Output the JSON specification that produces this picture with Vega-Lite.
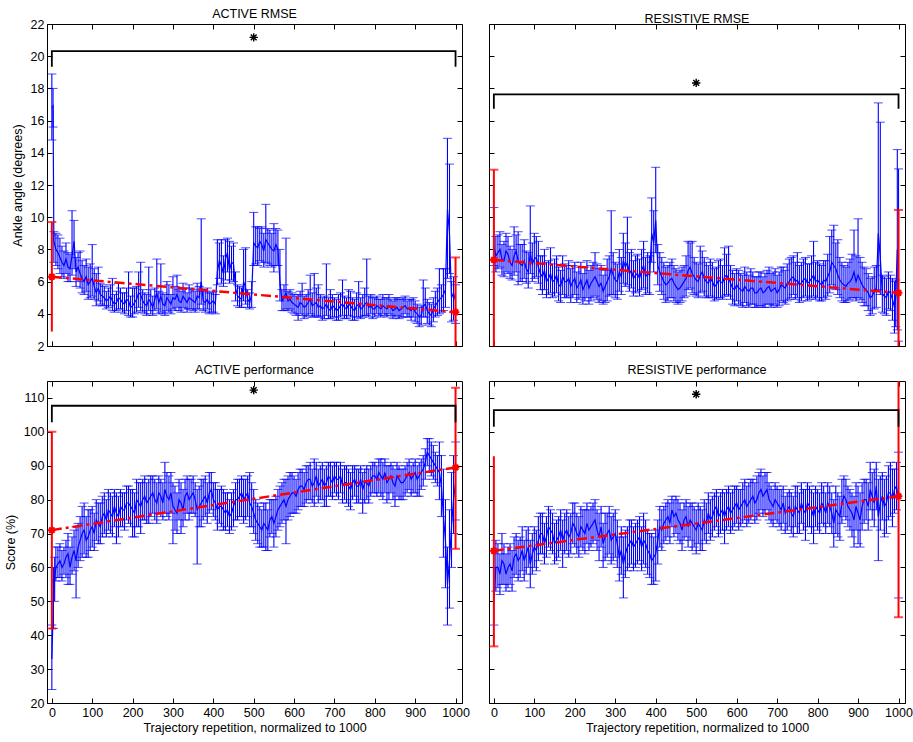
{
  "$schema": "https://vega.github.io/schema/vega-lite/v6.json",
  "description": "ACTIVE / RESISTIVE RMSE and performance over trajectory repetitions",
  "padding": {"left": 3, "top": 7, "right": 0, "bottom": 0},
  "background": "white",
  "config": {
    "font": "Liberation Sans",
    "view": {"stroke": "black", "strokeWidth": 1},
    "axis": {
      "labelFont": "Liberation Sans",
      "labelFontSize": 12.5,
      "labelColor": "black",
      "labelOverlap": false,
      "labelSeparation": 0,
      "tickCount": 30,
      "format": "d",
      "titleFont": "Liberation Sans",
      "titleFontSize": 12.5,
      "titleFontWeight": "normal",
      "titleColor": "black",
      "tickColor": "black",
      "domainColor": "black",
      "tickSize": -5,
      "labelPadding": 8,
      "grid": false
    },
    "title": {"font": "Liberation Sans", "fontSize": 12.5, "fontWeight": "normal", "color": "black", "offset": -2}
  },
  "datasets": {
    "tl": [
      {"x":0,"m":16.8,"lo":14.8,"hi":18.9},{"x":3,"m":16.9,"lo":15.6,"hi":18.0},{"x":10,"m":8.0,"lo":7.0,"hi":9.0},{"x":20,"m":7.5,"lo":6.5,"hi":8.7},
      {"x":30,"m":7.0,"lo":6.2,"hi":7.9},{"x":40,"m":6.9,"lo":6.0,"hi":7.8},{"x":50,"m":7.6,"lo":6.4,"hi":10.4},{"x":60,"m":6.6,"lo":5.7,"hi":7.5},
      {"x":70,"m":6.5,"lo":5.6,"hi":7.9},{"x":80,"m":6.0,"lo":5.2,"hi":7.0},{"x":90,"m":5.8,"lo":4.9,"hi":6.9},{"x":100,"m":6.2,"lo":5.1,"hi":8.3},
      {"x":110,"m":5.3,"lo":4.5,"hi":6.5},{"x":120,"m":5.2,"lo":4.6,"hi":5.9},{"x":130,"m":5.0,"lo":4.5,"hi":5.7},{"x":140,"m":4.9,"lo":4.4,"hi":5.6},
      {"x":150,"m":4.8,"lo":4.2,"hi":6.2},{"x":160,"m":4.7,"lo":4.2,"hi":5.4},{"x":170,"m":4.9,"lo":4.3,"hi":5.6},{"x":180,"m":4.6,"lo":4.0,"hi":5.3},
      {"x":190,"m":4.8,"lo":3.9,"hi":6.6},{"x":200,"m":4.5,"lo":3.8,"hi":5.6},{"x":210,"m":4.9,"lo":4.1,"hi":5.7},{"x":220,"m":5.2,"lo":4.2,"hi":7.2},
      {"x":230,"m":4.6,"lo":4.0,"hi":5.3},{"x":240,"m":4.9,"lo":4.2,"hi":6.9},{"x":250,"m":4.4,"lo":3.9,"hi":5.1},{"x":260,"m":5.3,"lo":4.3,"hi":7.4},
      {"x":270,"m":5.1,"lo":4.1,"hi":7.1},{"x":280,"m":4.5,"lo":3.9,"hi":5.2},{"x":290,"m":4.8,"lo":4.1,"hi":5.8},{"x":300,"m":5.0,"lo":4.3,"hi":6.3},
      {"x":310,"m":5.2,"lo":4.4,"hi":6.4},{"x":320,"m":4.7,"lo":4.1,"hi":5.4},{"x":330,"m":4.9,"lo":4.3,"hi":5.6},{"x":340,"m":5.0,"lo":4.3,"hi":5.8},
      {"x":350,"m":4.8,"lo":4.2,"hi":5.5},{"x":360,"m":5.1,"lo":4.3,"hi":5.9},{"x":370,"m":6.0,"lo":4.6,"hi":9.9},{"x":380,"m":4.7,"lo":4.1,"hi":5.4},
      {"x":390,"m":4.6,"lo":4.0,"hi":5.3},{"x":400,"m":4.8,"lo":4.1,"hi":5.4},{"x":410,"m":6.6,"lo":5.8,"hi":8.6},{"x":420,"m":7.0,"lo":5.9,"hi":8.6},
      {"x":430,"m":7.4,"lo":6.1,"hi":8.6},{"x":440,"m":6.7,"lo":5.9,"hi":8.5},{"x":450,"m":7.1,"lo":6.0,"hi":8.4},{"x":460,"m":5.1,"lo":4.5,"hi":5.8},
      {"x":470,"m":4.9,"lo":4.4,"hi":5.6},{"x":480,"m":5.6,"lo":4.6,"hi":8.1},{"x":490,"m":4.7,"lo":4.3,"hi":5.3},{"x":500,"m":8.4,"lo":7.0,"hi":10.3},
      {"x":510,"m":8.1,"lo":7.0,"hi":9.4},{"x":520,"m":8.3,"lo":7.2,"hi":9.4},{"x":530,"m":8.6,"lo":7.2,"hi":10.8},{"x":540,"m":8.2,"lo":7.0,"hi":9.2},
      {"x":550,"m":7.9,"lo":6.6,"hi":9.6},{"x":560,"m":8.0,"lo":7.0,"hi":9.2},{"x":570,"m":4.8,"lo":4.2,"hi":5.5},{"x":580,"m":5.3,"lo":4.3,"hi":8.7},
      {"x":590,"m":4.9,"lo":4.3,"hi":5.5},{"x":600,"m":4.6,"lo":4.0,"hi":5.2},{"x":610,"m":4.4,"lo":3.6,"hi":5.2},{"x":620,"m":4.6,"lo":3.9,"hi":5.9},
      {"x":630,"m":4.5,"lo":3.8,"hi":5.2},{"x":640,"m":4.9,"lo":4.0,"hi":6.4},{"x":650,"m":4.6,"lo":3.8,"hi":6.5},{"x":660,"m":4.4,"lo":3.8,"hi":5.8},
      {"x":670,"m":4.3,"lo":3.6,"hi":5.0},{"x":680,"m":4.6,"lo":3.9,"hi":7.1},{"x":690,"m":4.2,"lo":3.7,"hi":5.5},{"x":700,"m":4.4,"lo":3.8,"hi":5.0},
      {"x":710,"m":4.3,"lo":3.6,"hi":5.2},{"x":720,"m":4.6,"lo":3.9,"hi":6.1},{"x":730,"m":4.3,"lo":3.7,"hi":5.0},{"x":740,"m":4.5,"lo":3.8,"hi":5.4},
      {"x":750,"m":4.2,"lo":3.6,"hi":4.9},{"x":760,"m":4.6,"lo":3.8,"hi":6.0},{"x":770,"m":4.4,"lo":3.8,"hi":5.2},{"x":780,"m":4.7,"lo":3.9,"hi":7.4},
      {"x":790,"m":4.5,"lo":4.0,"hi":5.2},{"x":800,"m":4.3,"lo":3.8,"hi":5.0},{"x":810,"m":4.4,"lo":3.9,"hi":4.9},{"x":820,"m":4.5,"lo":4.0,"hi":5.2},
      {"x":830,"m":4.3,"lo":3.8,"hi":5.0},{"x":840,"m":4.4,"lo":3.9,"hi":4.9},{"x":850,"m":4.3,"lo":3.8,"hi":5.0},{"x":860,"m":4.2,"lo":3.7,"hi":4.9},
      {"x":870,"m":4.4,"lo":3.8,"hi":5.0},{"x":880,"m":4.3,"lo":3.8,"hi":4.8},{"x":890,"m":4.2,"lo":3.6,"hi":4.9},{"x":900,"m":4.1,"lo":3.5,"hi":4.8},
      {"x":910,"m":3.8,"lo":3.2,"hi":4.4},{"x":920,"m":4.5,"lo":3.8,"hi":6.1},{"x":930,"m":4.2,"lo":3.4,"hi":4.9},{"x":940,"m":3.9,"lo":3.2,"hi":4.6},
      {"x":950,"m":4.5,"lo":3.8,"hi":5.4},{"x":960,"m":4.9,"lo":4.0,"hi":6.8},{"x":970,"m":5.2,"lo":4.2,"hi":6.8},{"x":980,"m":10.5,"lo":6.2,"hi":14.9},
      {"x":985,"m":9.0,"lo":6.5,"hi":13.3},{"x":990,"m":5.0,"lo":3.5,"hi":6.0},{"x":1000,"m":4.8,"lo":3.4,"hi":5.8},
      {"x":5,"m":8.5,"lo":7.2,"hi":9.1},{"x":15,"m":7.8,"lo":6.8,"hi":8.9},{"x":25,"m":7.2,"lo":6.3,"hi":8.2},{"x":35,"m":7.4,"lo":6.5,"hi":8.4},
      {"x":45,"m":6.8,"lo":6.0,"hi":7.7},{"x":55,"m":8.5,"lo":6.8,"hi":9.8},{"x":65,"m":6.9,"lo":6.0,"hi":7.8},{"x":75,"m":6.2,"lo":5.3,"hi":7.3},
      {"x":85,"m":6.3,"lo":5.4,"hi":7.4},{"x":95,"m":6.0,"lo":5.0,"hi":7.1},{"x":105,"m":5.7,"lo":4.9,"hi":6.8},{"x":115,"m":5.6,"lo":4.8,"hi":6.9},
      {"x":125,"m":5.1,"lo":4.5,"hi":5.8},{"x":135,"m":4.8,"lo":4.3,"hi":5.4},{"x":145,"m":5.1,"lo":4.5,"hi":5.8},{"x":155,"m":4.6,"lo":4.1,"hi":5.2},
      {"x":165,"m":5.0,"lo":4.3,"hi":5.9},{"x":175,"m":4.7,"lo":4.1,"hi":5.3},{"x":185,"m":4.9,"lo":4.2,"hi":5.6},{"x":195,"m":4.4,"lo":3.8,"hi":5.1},
      {"x":205,"m":4.7,"lo":4.0,"hi":5.6},{"x":215,"m":5.3,"lo":4.4,"hi":6.6},{"x":225,"m":4.8,"lo":4.1,"hi":5.5},{"x":235,"m":4.5,"lo":3.9,"hi":5.2},
      {"x":245,"m":4.7,"lo":4.0,"hi":5.5},{"x":255,"m":4.9,"lo":4.2,"hi":5.6},{"x":265,"m":4.7,"lo":4.0,"hi":5.4},{"x":275,"m":4.6,"lo":4.0,"hi":5.3},
      {"x":285,"m":5.0,"lo":4.2,"hi":6.0},{"x":295,"m":4.6,"lo":4.0,"hi":5.2},{"x":305,"m":4.9,"lo":4.2,"hi":5.7},{"x":315,"m":4.8,"lo":4.2,"hi":5.5},
      {"x":325,"m":5.1,"lo":4.4,"hi":5.9},{"x":335,"m":4.7,"lo":4.1,"hi":5.3},{"x":345,"m":4.9,"lo":4.3,"hi":5.6},{"x":355,"m":4.7,"lo":4.1,"hi":5.4},
      {"x":365,"m":5.0,"lo":4.3,"hi":5.7},{"x":375,"m":4.8,"lo":4.2,"hi":5.5},{"x":385,"m":4.9,"lo":4.3,"hi":5.6},{"x":395,"m":4.7,"lo":4.1,"hi":5.3},
      {"x":405,"m":4.6,"lo":4.0,"hi":5.2},{"x":415,"m":7.3,"lo":6.2,"hi":8.4},{"x":425,"m":6.5,"lo":5.7,"hi":7.6},{"x":435,"m":7.8,"lo":6.6,"hi":8.7},
      {"x":445,"m":7.2,"lo":6.1,"hi":8.2},{"x":455,"m":5.6,"lo":4.8,"hi":6.6},{"x":465,"m":5.0,"lo":4.4,"hi":5.7},{"x":475,"m":6.0,"lo":4.8,"hi":8.0},
      {"x":485,"m":4.9,"lo":4.4,"hi":5.5},{"x":495,"m":5.2,"lo":4.4,"hi":6.0},{"x":505,"m":8.2,"lo":7.1,"hi":9.4},{"x":515,"m":8.5,"lo":7.3,"hi":9.3},
      {"x":525,"m":7.9,"lo":6.9,"hi":9.0},{"x":535,"m":8.4,"lo":7.1,"hi":9.3},{"x":545,"m":8.0,"lo":6.9,"hi":9.0},{"x":555,"m":8.3,"lo":7.0,"hi":9.3},
      {"x":565,"m":6.0,"lo":4.8,"hi":8.0},{"x":575,"m":5.0,"lo":4.2,"hi":5.8},{"x":585,"m":4.8,"lo":4.2,"hi":5.4},{"x":595,"m":4.7,"lo":4.1,"hi":5.3},
      {"x":605,"m":4.5,"lo":3.9,"hi":5.1},{"x":615,"m":4.7,"lo":4.0,"hi":5.4},{"x":625,"m":4.4,"lo":3.7,"hi":5.1},{"x":635,"m":4.7,"lo":3.9,"hi":5.5},
      {"x":645,"m":4.5,"lo":3.8,"hi":5.3},{"x":655,"m":4.7,"lo":3.9,"hi":5.6},{"x":665,"m":4.5,"lo":3.8,"hi":5.2},{"x":675,"m":4.4,"lo":3.7,"hi":5.1},
      {"x":685,"m":4.3,"lo":3.7,"hi":5.0},{"x":695,"m":4.5,"lo":3.8,"hi":5.2},{"x":705,"m":4.2,"lo":3.6,"hi":4.9},{"x":715,"m":4.5,"lo":3.8,"hi":5.3},
      {"x":725,"m":4.4,"lo":3.7,"hi":5.1},{"x":735,"m":4.6,"lo":3.9,"hi":5.5},{"x":745,"m":4.3,"lo":3.6,"hi":5.0},{"x":755,"m":4.5,"lo":3.8,"hi":5.3},
      {"x":765,"m":4.3,"lo":3.7,"hi":5.0},{"x":775,"m":4.6,"lo":3.9,"hi":5.6},{"x":785,"m":4.4,"lo":3.8,"hi":5.1},{"x":795,"m":4.3,"lo":3.7,"hi":5.0},
      {"x":805,"m":4.5,"lo":4.0,"hi":5.1},{"x":815,"m":4.3,"lo":3.8,"hi":4.9},{"x":825,"m":4.4,"lo":3.9,"hi":5.0},{"x":835,"m":4.5,"lo":4.0,"hi":5.2},
      {"x":845,"m":4.2,"lo":3.7,"hi":4.8},{"x":855,"m":4.4,"lo":3.9,"hi":5.0},{"x":865,"m":4.3,"lo":3.8,"hi":4.9},{"x":875,"m":4.5,"lo":4.0,"hi":5.1},
      {"x":885,"m":4.3,"lo":3.8,"hi":4.9},{"x":895,"m":4.4,"lo":3.8,"hi":5.0},{"x":905,"m":4.0,"lo":3.4,"hi":4.6},{"x":915,"m":3.9,"lo":3.3,"hi":4.5},
      {"x":925,"m":4.6,"lo":3.8,"hi":5.6},{"x":935,"m":4.0,"lo":3.3,"hi":4.7},{"x":945,"m":4.3,"lo":3.5,"hi":5.0},{"x":955,"m":4.7,"lo":3.9,"hi":5.6},
      {"x":965,"m":5.0,"lo":4.1,"hi":5.8},{"x":975,"m":5.5,"lo":4.4,"hi":6.8},{"x":995,"m":5.3,"lo":3.6,"hi":6.3}
    ],
    "tr": [
      {"x":0,"m":8.2,"lo":7.0,"hi":10.6},{"x":10,"m":7.8,"lo":6.8,"hi":8.9},{"x":20,"m":7.4,"lo":6.4,"hi":8.3},{"x":30,"m":7.9,"lo":6.6,"hi":9.0},
      {"x":40,"m":7.2,"lo":6.2,"hi":8.2},{"x":50,"m":7.6,"lo":6.4,"hi":9.4},{"x":60,"m":7.3,"lo":5.8,"hi":9.1},{"x":70,"m":7.0,"lo":6.0,"hi":8.3},
      {"x":80,"m":6.8,"lo":5.9,"hi":7.9},{"x":90,"m":7.8,"lo":6.5,"hi":10.7},{"x":100,"m":7.4,"lo":6.2,"hi":9.0},{"x":110,"m":6.9,"lo":5.9,"hi":8.5},
      {"x":120,"m":6.3,"lo":5.2,"hi":7.6},{"x":130,"m":6.0,"lo":5.0,"hi":7.2},{"x":140,"m":6.5,"lo":5.3,"hi":8.1},{"x":150,"m":6.1,"lo":5.1,"hi":7.4},
      {"x":160,"m":5.8,"lo":4.8,"hi":6.9},{"x":170,"m":6.3,"lo":5.2,"hi":7.6},{"x":180,"m":6.0,"lo":5.0,"hi":7.0},{"x":190,"m":5.7,"lo":4.7,"hi":6.8},
      {"x":200,"m":6.2,"lo":5.2,"hi":7.2},{"x":210,"m":5.8,"lo":4.9,"hi":6.9},{"x":220,"m":5.5,"lo":4.6,"hi":6.5},{"x":230,"m":6.1,"lo":5.0,"hi":7.3},
      {"x":240,"m":5.9,"lo":4.8,"hi":7.0},{"x":250,"m":6.3,"lo":5.1,"hi":7.8},{"x":260,"m":5.7,"lo":4.7,"hi":6.8},{"x":270,"m":5.4,"lo":4.6,"hi":6.4},
      {"x":280,"m":6.0,"lo":4.8,"hi":7.4},{"x":290,"m":6.8,"lo":5.2,"hi":10.4},{"x":300,"m":6.1,"lo":5.0,"hi":7.2},{"x":310,"m":6.6,"lo":5.4,"hi":8.0},
      {"x":320,"m":7.3,"lo":5.9,"hi":9.0},{"x":330,"m":7.2,"lo":5.8,"hi":10.0},{"x":340,"m":6.7,"lo":5.6,"hi":8.0},{"x":350,"m":6.4,"lo":5.3,"hi":7.6},
      {"x":360,"m":6.2,"lo":5.1,"hi":7.4},{"x":370,"m":7.0,"lo":5.6,"hi":8.5},{"x":380,"m":6.5,"lo":5.3,"hi":7.8},{"x":390,"m":9.0,"lo":7.2,"hi":11.2},
      {"x":400,"m":9.8,"lo":7.8,"hi":13.1},{"x":410,"m":6.6,"lo":5.4,"hi":7.8},{"x":420,"m":6.0,"lo":4.9,"hi":7.2},{"x":430,"m":5.9,"lo":4.8,"hi":7.0},
      {"x":440,"m":6.2,"lo":5.0,"hi":7.4},{"x":450,"m":5.7,"lo":4.7,"hi":6.8},{"x":460,"m":5.6,"lo":4.7,"hi":6.7},{"x":470,"m":6.0,"lo":5.0,"hi":7.0},
      {"x":480,"m":6.7,"lo":5.5,"hi":8.5},{"x":490,"m":6.5,"lo":5.3,"hi":8.5},{"x":500,"m":6.1,"lo":5.1,"hi":7.2},{"x":510,"m":6.4,"lo":5.3,"hi":8.2},
      {"x":520,"m":6.2,"lo":5.1,"hi":7.5},{"x":530,"m":5.9,"lo":5.0,"hi":7.0},{"x":540,"m":6.0,"lo":5.0,"hi":7.2},{"x":550,"m":5.8,"lo":4.9,"hi":6.9},
      {"x":560,"m":6.0,"lo":5.0,"hi":7.4},{"x":570,"m":6.3,"lo":5.1,"hi":8.1},{"x":580,"m":6.2,"lo":5.1,"hi":8.2},{"x":590,"m":5.6,"lo":4.6,"hi":6.7},
      {"x":600,"m":5.8,"lo":4.8,"hi":6.8},{"x":610,"m":5.5,"lo":4.5,"hi":6.5},{"x":620,"m":5.7,"lo":4.7,"hi":6.9},{"x":630,"m":5.4,"lo":4.4,"hi":6.4},
      {"x":640,"m":5.6,"lo":4.6,"hi":6.6},{"x":650,"m":5.3,"lo":4.4,"hi":6.3},{"x":660,"m":5.6,"lo":4.5,"hi":6.6},{"x":670,"m":5.4,"lo":4.4,"hi":6.5},
      {"x":680,"m":5.7,"lo":4.6,"hi":6.9},{"x":690,"m":5.5,"lo":4.5,"hi":6.6},{"x":700,"m":5.3,"lo":4.4,"hi":6.4},{"x":710,"m":5.8,"lo":4.8,"hi":6.9},
      {"x":720,"m":5.6,"lo":4.6,"hi":6.7},{"x":730,"m":6.0,"lo":4.9,"hi":7.4},{"x":740,"m":6.3,"lo":5.2,"hi":7.6},{"x":750,"m":6.1,"lo":5.0,"hi":7.8},
      {"x":760,"m":5.9,"lo":4.8,"hi":7.2},{"x":770,"m":6.2,"lo":5.1,"hi":7.5},{"x":780,"m":6.0,"lo":4.9,"hi":7.1},{"x":790,"m":6.4,"lo":5.1,"hi":8.5},
      {"x":800,"m":6.1,"lo":5.0,"hi":7.3},{"x":810,"m":5.8,"lo":4.8,"hi":7.0},{"x":820,"m":6.0,"lo":4.9,"hi":7.3},{"x":830,"m":6.6,"lo":5.3,"hi":8.8},
      {"x":840,"m":7.0,"lo":5.6,"hi":9.5},{"x":850,"m":6.4,"lo":5.2,"hi":8.6},{"x":860,"m":5.9,"lo":4.8,"hi":7.2},{"x":870,"m":5.7,"lo":4.7,"hi":6.9},
      {"x":880,"m":6.0,"lo":4.9,"hi":7.4},{"x":890,"m":6.6,"lo":5.0,"hi":9.2},{"x":900,"m":6.4,"lo":5.0,"hi":9.9},{"x":910,"m":5.8,"lo":4.7,"hi":7.2},
      {"x":920,"m":5.5,"lo":4.5,"hi":6.8},{"x":930,"m":5.0,"lo":3.9,"hi":6.2},{"x":940,"m":5.4,"lo":4.3,"hi":6.9},{"x":950,"m":9.0,"lo":5.5,"hi":17.1},
      {"x":955,"m":7.5,"lo":5.2,"hi":15.9},{"x":960,"m":5.2,"lo":4.1,"hi":6.4},{"x":970,"m":5.0,"lo":3.9,"hi":6.2},{"x":980,"m":5.3,"lo":4.2,"hi":6.4},
      {"x":990,"m":4.4,"lo":2.8,"hi":6.0},{"x":997,"m":8.0,"lo":3.0,"hi":14.2},{"x":1000,"m":7.0,"lo":2.3,"hi":13.0},
      {"x":5,"m":7.6,"lo":6.6,"hi":8.8},{"x":15,"m":8.0,"lo":6.9,"hi":9.1},{"x":25,"m":7.3,"lo":6.3,"hi":8.5},{"x":35,"m":7.7,"lo":6.5,"hi":8.8},
      {"x":45,"m":7.0,"lo":6.1,"hi":8.0},{"x":55,"m":7.9,"lo":6.6,"hi":8.9},{"x":65,"m":7.1,"lo":6.0,"hi":8.3},{"x":75,"m":7.3,"lo":6.2,"hi":8.6},
      {"x":85,"m":6.6,"lo":5.6,"hi":7.8},{"x":95,"m":7.1,"lo":6.0,"hi":8.4},{"x":105,"m":7.5,"lo":6.3,"hi":8.8},{"x":115,"m":6.5,"lo":5.5,"hi":7.6},
      {"x":125,"m":6.7,"lo":5.5,"hi":8.0},{"x":135,"m":6.2,"lo":5.2,"hi":7.3},{"x":145,"m":6.0,"lo":5.0,"hi":7.1},{"x":155,"m":6.4,"lo":5.3,"hi":7.6},
      {"x":165,"m":5.7,"lo":4.7,"hi":6.7},{"x":175,"m":6.0,"lo":5.0,"hi":7.1},{"x":185,"m":6.2,"lo":5.1,"hi":7.3},{"x":195,"m":6.0,"lo":5.0,"hi":7.0},
      {"x":205,"m":5.6,"lo":4.7,"hi":6.6},{"x":215,"m":6.1,"lo":5.0,"hi":7.2},{"x":225,"m":5.8,"lo":4.8,"hi":6.9},{"x":235,"m":5.6,"lo":4.6,"hi":6.7},
      {"x":245,"m":6.1,"lo":5.0,"hi":7.2},{"x":255,"m":6.0,"lo":4.9,"hi":7.1},{"x":265,"m":5.9,"lo":4.8,"hi":7.0},{"x":275,"m":5.7,"lo":4.7,"hi":6.7},
      {"x":285,"m":6.3,"lo":5.1,"hi":7.6},{"x":295,"m":6.4,"lo":5.2,"hi":7.8},{"x":305,"m":6.0,"lo":4.9,"hi":7.1},{"x":315,"m":6.3,"lo":5.2,"hi":7.5},
      {"x":325,"m":6.9,"lo":5.7,"hi":8.4},{"x":335,"m":6.5,"lo":5.4,"hi":7.8},{"x":345,"m":6.2,"lo":5.1,"hi":7.3},{"x":355,"m":6.5,"lo":5.4,"hi":7.7},
      {"x":365,"m":6.7,"lo":5.5,"hi":8.0},{"x":375,"m":6.3,"lo":5.2,"hi":7.5},{"x":385,"m":6.4,"lo":5.2,"hi":7.6},{"x":395,"m":8.4,"lo":6.6,"hi":10.4},
      {"x":405,"m":7.0,"lo":5.8,"hi":8.3},{"x":415,"m":6.3,"lo":5.2,"hi":7.5},{"x":425,"m":5.8,"lo":4.7,"hi":6.9},{"x":435,"m":6.1,"lo":5.0,"hi":7.2},
      {"x":445,"m":5.9,"lo":4.8,"hi":7.0},{"x":455,"m":5.5,"lo":4.6,"hi":6.6},{"x":465,"m":5.8,"lo":4.8,"hi":6.9},{"x":475,"m":6.2,"lo":5.1,"hi":7.6},
      {"x":485,"m":6.9,"lo":5.6,"hi":8.4},{"x":495,"m":6.3,"lo":5.2,"hi":7.5},{"x":505,"m":6.0,"lo":5.0,"hi":7.1},{"x":515,"m":6.6,"lo":5.4,"hi":7.9},
      {"x":525,"m":6.0,"lo":5.0,"hi":7.2},{"x":535,"m":6.2,"lo":5.1,"hi":7.4},{"x":545,"m":5.7,"lo":4.8,"hi":6.8},{"x":555,"m":6.1,"lo":5.0,"hi":7.3},
      {"x":565,"m":5.9,"lo":4.9,"hi":7.0},{"x":575,"m":6.4,"lo":5.2,"hi":7.7},{"x":585,"m":5.9,"lo":4.9,"hi":7.0},{"x":595,"m":5.5,"lo":4.5,"hi":6.5},
      {"x":605,"m":5.6,"lo":4.6,"hi":6.7},{"x":615,"m":5.4,"lo":4.4,"hi":6.4},{"x":625,"m":5.5,"lo":4.5,"hi":6.6},{"x":635,"m":5.6,"lo":4.6,"hi":6.8},
      {"x":645,"m":5.3,"lo":4.4,"hi":6.3},{"x":655,"m":5.5,"lo":4.5,"hi":6.6},{"x":665,"m":5.3,"lo":4.4,"hi":6.3},{"x":675,"m":5.6,"lo":4.6,"hi":6.7},
      {"x":685,"m":5.4,"lo":4.4,"hi":6.5},{"x":695,"m":5.6,"lo":4.6,"hi":6.8},{"x":705,"m":5.5,"lo":4.5,"hi":6.6},{"x":715,"m":5.7,"lo":4.7,"hi":6.9},
      {"x":725,"m":5.9,"lo":4.8,"hi":7.1},{"x":735,"m":6.2,"lo":5.0,"hi":7.5},{"x":745,"m":6.0,"lo":4.9,"hi":7.2},{"x":755,"m":5.8,"lo":4.7,"hi":7.0},
      {"x":765,"m":6.1,"lo":5.0,"hi":7.4},{"x":775,"m":5.9,"lo":4.8,"hi":7.1},{"x":785,"m":6.2,"lo":5.0,"hi":7.6},{"x":795,"m":6.0,"lo":4.9,"hi":7.2},
      {"x":805,"m":5.9,"lo":4.8,"hi":7.1},{"x":815,"m":6.1,"lo":5.0,"hi":7.3},{"x":825,"m":6.3,"lo":5.1,"hi":7.7},{"x":835,"m":7.2,"lo":5.8,"hi":9.2},
      {"x":845,"m":6.8,"lo":5.5,"hi":8.4},{"x":855,"m":6.1,"lo":5.0,"hi":7.5},{"x":865,"m":5.8,"lo":4.7,"hi":7.0},{"x":875,"m":5.9,"lo":4.8,"hi":7.2},
      {"x":885,"m":6.2,"lo":5.0,"hi":7.7},{"x":895,"m":6.0,"lo":4.8,"hi":7.6},{"x":905,"m":6.1,"lo":4.9,"hi":7.5},{"x":915,"m":5.6,"lo":4.5,"hi":6.9},
      {"x":925,"m":5.3,"lo":4.2,"hi":6.5},{"x":935,"m":5.1,"lo":4.0,"hi":6.3},{"x":945,"m":5.6,"lo":4.4,"hi":7.0},{"x":965,"m":5.1,"lo":4.0,"hi":6.3},
      {"x":975,"m":5.4,"lo":4.3,"hi":6.6},{"x":985,"m":4.9,"lo":3.6,"hi":6.2},{"x":993,"m":5.0,"lo":3.2,"hi":6.1}
    ],
    "bl": [
      {"x":0,"m":33,"lo":24,"hi":43},{"x":4,"m":50,"lo":42,"hi":60},{"x":10,"m":60,"lo":56,"hi":66},{"x":20,"m":62,"lo":57,"hi":67},
      {"x":30,"m":61,"lo":58,"hi":66},{"x":40,"m":64,"lo":55,"hi":70},{"x":50,"m":63,"lo":58,"hi":69},{"x":60,"m":62,"lo":51,"hi":72},
      {"x":70,"m":68,"lo":62,"hi":75},{"x":80,"m":71,"lo":64,"hi":79},{"x":90,"m":69,"lo":63,"hi":77},{"x":100,"m":72,"lo":66,"hi":78},
      {"x":110,"m":74,"lo":68,"hi":80},{"x":120,"m":72,"lo":67,"hi":79},{"x":130,"m":76,"lo":70,"hi":82},{"x":140,"m":77,"lo":71,"hi":83},
      {"x":150,"m":75,"lo":69,"hi":81},{"x":160,"m":76,"lo":67,"hi":82},{"x":170,"m":78,"lo":72,"hi":83},{"x":180,"m":77,"lo":71,"hi":82},
      {"x":190,"m":79,"lo":73,"hi":84},{"x":200,"m":77,"lo":69,"hi":83},{"x":210,"m":80,"lo":72,"hi":86},{"x":220,"m":78,"lo":70,"hi":85},
      {"x":230,"m":81,"lo":74,"hi":87},{"x":240,"m":80,"lo":73,"hi":86},{"x":250,"m":82,"lo":76,"hi":87},{"x":260,"m":79,"lo":73,"hi":85},
      {"x":270,"m":81,"lo":75,"hi":86},{"x":280,"m":83,"lo":76,"hi":91},{"x":290,"m":80,"lo":74,"hi":87},{"x":300,"m":78,"lo":67,"hi":85},
      {"x":310,"m":76,"lo":70,"hi":82},{"x":320,"m":79,"lo":70,"hi":85},{"x":330,"m":81,"lo":74,"hi":86},{"x":340,"m":80,"lo":74,"hi":86},
      {"x":350,"m":82,"lo":76,"hi":87},{"x":360,"m":77,"lo":61,"hi":83},{"x":370,"m":79,"lo":72,"hi":86},{"x":380,"m":81,"lo":75,"hi":87},
      {"x":390,"m":82,"lo":76,"hi":88},{"x":400,"m":80,"lo":75,"hi":85},{"x":410,"m":77,"lo":71,"hi":83},{"x":420,"m":78,"lo":72,"hi":84},
      {"x":430,"m":76,"lo":71,"hi":82},{"x":440,"m":75,"lo":70,"hi":80},{"x":450,"m":78,"lo":72,"hi":83},{"x":460,"m":80,"lo":74,"hi":86},
      {"x":470,"m":82,"lo":75,"hi":87},{"x":480,"m":81,"lo":74,"hi":86},{"x":490,"m":79,"lo":72,"hi":88},{"x":500,"m":76,"lo":70,"hi":83},
      {"x":510,"m":73,"lo":67,"hi":79},{"x":520,"m":71,"lo":66,"hi":77},{"x":530,"m":72,"lo":65,"hi":79},{"x":540,"m":74,"lo":69,"hi":80},
      {"x":550,"m":73,"lo":66,"hi":80},{"x":560,"m":77,"lo":71,"hi":83},{"x":570,"m":79,"lo":73,"hi":85},{"x":580,"m":78,"lo":67,"hi":86},
      {"x":590,"m":81,"lo":75,"hi":88},{"x":600,"m":82,"lo":76,"hi":87},{"x":610,"m":83,"lo":77,"hi":88},{"x":620,"m":84,"lo":78,"hi":89},
      {"x":630,"m":85,"lo":79,"hi":90},{"x":640,"m":86,"lo":80,"hi":91},{"x":650,"m":85,"lo":78,"hi":92},{"x":660,"m":84,"lo":79,"hi":89},
      {"x":670,"m":86,"lo":80,"hi":91},{"x":680,"m":85,"lo":78,"hi":90},{"x":690,"m":86,"lo":81,"hi":91},{"x":700,"m":87,"lo":82,"hi":91},
      {"x":710,"m":86,"lo":80,"hi":90},{"x":720,"m":84,"lo":79,"hi":89},{"x":730,"m":85,"lo":79,"hi":90},{"x":740,"m":83,"lo":77,"hi":88},
      {"x":750,"m":86,"lo":81,"hi":90},{"x":760,"m":84,"lo":79,"hi":89},{"x":770,"m":83,"lo":76,"hi":88},{"x":780,"m":85,"lo":80,"hi":90},
      {"x":790,"m":86,"lo":81,"hi":90},{"x":800,"m":87,"lo":82,"hi":91},{"x":810,"m":88,"lo":82,"hi":92},{"x":820,"m":86,"lo":80,"hi":91},
      {"x":830,"m":85,"lo":79,"hi":90},{"x":840,"m":87,"lo":82,"hi":91},{"x":850,"m":84,"lo":78,"hi":89},{"x":860,"m":86,"lo":80,"hi":90},
      {"x":870,"m":85,"lo":80,"hi":89},{"x":880,"m":87,"lo":82,"hi":91},{"x":890,"m":86,"lo":81,"hi":90},{"x":900,"m":88,"lo":82,"hi":92},
      {"x":910,"m":87,"lo":81,"hi":91},{"x":920,"m":89,"lo":84,"hi":93},{"x":930,"m":94,"lo":90,"hi":98},{"x":940,"m":92,"lo":87,"hi":97},
      {"x":950,"m":90,"lo":85,"hi":94},{"x":960,"m":88,"lo":80,"hi":97},{"x":970,"m":75,"lo":63,"hi":89},{"x":980,"m":55,"lo":43,"hi":66},
      {"x":990,"m":72,"lo":60,"hi":88},{"x":1000,"m":85,"lo":74,"hi":97},
      {"x":7,"m":57,"lo":50,"hi":63},{"x":15,"m":61,"lo":57,"hi":66},{"x":25,"m":60,"lo":56,"hi":65},{"x":35,"m":63,"lo":57,"hi":68},
      {"x":45,"m":60,"lo":55,"hi":66},{"x":55,"m":65,"lo":59,"hi":71},{"x":65,"m":66,"lo":60,"hi":73},{"x":75,"m":70,"lo":63,"hi":78},
      {"x":85,"m":68,"lo":63,"hi":75},{"x":95,"m":71,"lo":65,"hi":77},{"x":105,"m":70,"lo":65,"hi":76},{"x":115,"m":73,"lo":67,"hi":79},
      {"x":125,"m":75,"lo":69,"hi":81},{"x":135,"m":74,"lo":69,"hi":80},{"x":145,"m":76,"lo":70,"hi":82},{"x":155,"m":78,"lo":72,"hi":83},
      {"x":165,"m":75,"lo":69,"hi":81},{"x":175,"m":77,"lo":72,"hi":82},{"x":185,"m":79,"lo":74,"hi":84},{"x":195,"m":78,"lo":72,"hi":83},
      {"x":205,"m":76,"lo":69,"hi":82},{"x":215,"m":79,"lo":72,"hi":85},{"x":225,"m":80,"lo":74,"hi":86},{"x":235,"m":79,"lo":73,"hi":85},
      {"x":245,"m":81,"lo":75,"hi":87},{"x":255,"m":80,"lo":74,"hi":86},{"x":265,"m":82,"lo":76,"hi":87},{"x":275,"m":79,"lo":74,"hi":85},
      {"x":285,"m":81,"lo":75,"hi":88},{"x":295,"m":82,"lo":76,"hi":88},{"x":305,"m":77,"lo":71,"hi":84},{"x":315,"m":80,"lo":74,"hi":86},
      {"x":325,"m":77,"lo":72,"hi":83},{"x":335,"m":82,"lo":76,"hi":87},{"x":345,"m":81,"lo":76,"hi":86},{"x":355,"m":80,"lo":75,"hi":85},
      {"x":365,"m":78,"lo":72,"hi":84},{"x":375,"m":80,"lo":74,"hi":86},{"x":385,"m":79,"lo":73,"hi":85},{"x":395,"m":83,"lo":77,"hi":88},
      {"x":405,"m":79,"lo":74,"hi":85},{"x":415,"m":78,"lo":73,"hi":83},{"x":425,"m":77,"lo":71,"hi":83},{"x":435,"m":77,"lo":72,"hi":82},
      {"x":445,"m":76,"lo":71,"hi":82},{"x":455,"m":80,"lo":74,"hi":85},{"x":465,"m":81,"lo":75,"hi":86},{"x":475,"m":80,"lo":73,"hi":86},
      {"x":485,"m":82,"lo":75,"hi":87},{"x":495,"m":78,"lo":72,"hi":85},{"x":505,"m":74,"lo":68,"hi":80},{"x":515,"m":72,"lo":66,"hi":78},
      {"x":525,"m":73,"lo":66,"hi":79},{"x":535,"m":71,"lo":65,"hi":77},{"x":545,"m":75,"lo":70,"hi":80},{"x":555,"m":75,"lo":69,"hi":81},
      {"x":565,"m":78,"lo":72,"hi":84},{"x":575,"m":80,"lo":74,"hi":86},{"x":585,"m":80,"lo":74,"hi":87},{"x":595,"m":82,"lo":76,"hi":88},
      {"x":605,"m":81,"lo":76,"hi":86},{"x":615,"m":84,"lo":78,"hi":89},{"x":625,"m":83,"lo":78,"hi":88},{"x":635,"m":86,"lo":80,"hi":90},
      {"x":645,"m":84,"lo":79,"hi":89},{"x":655,"m":87,"lo":81,"hi":91},{"x":665,"m":85,"lo":80,"hi":90},{"x":675,"m":84,"lo":78,"hi":89},
      {"x":685,"m":87,"lo":81,"hi":91},{"x":695,"m":85,"lo":80,"hi":90},{"x":705,"m":86,"lo":81,"hi":91},{"x":715,"m":87,"lo":82,"hi":91},
      {"x":725,"m":85,"lo":80,"hi":90},{"x":735,"m":84,"lo":78,"hi":89},{"x":745,"m":85,"lo":80,"hi":90},{"x":755,"m":84,"lo":79,"hi":89},
      {"x":765,"m":86,"lo":80,"hi":90},{"x":775,"m":85,"lo":79,"hi":89},{"x":785,"m":84,"lo":79,"hi":89},{"x":795,"m":87,"lo":82,"hi":91},
      {"x":805,"m":86,"lo":81,"hi":90},{"x":815,"m":87,"lo":81,"hi":92},{"x":825,"m":88,"lo":82,"hi":92},{"x":835,"m":86,"lo":80,"hi":90},
      {"x":845,"m":85,"lo":80,"hi":90},{"x":855,"m":87,"lo":81,"hi":91},{"x":865,"m":85,"lo":80,"hi":89},{"x":875,"m":86,"lo":81,"hi":90},
      {"x":885,"m":88,"lo":83,"hi":92},{"x":895,"m":87,"lo":82,"hi":91},{"x":905,"m":86,"lo":81,"hi":90},{"x":915,"m":88,"lo":83,"hi":92},
      {"x":925,"m":91,"lo":86,"hi":95},{"x":935,"m":93,"lo":88,"hi":98},{"x":945,"m":91,"lo":86,"hi":96},{"x":955,"m":89,"lo":84,"hi":93},
      {"x":965,"m":84,"lo":75,"hi":93},{"x":975,"m":68,"lo":54,"hi":80},{"x":985,"m":62,"lo":48,"hi":77},{"x":995,"m":80,"lo":70,"hi":93}
    ],
    "br": [
      {"x":0,"m":50,"lo":43,"hi":60},{"x":5,"m":60,"lo":53,"hi":68},{"x":10,"m":60,"lo":54,"hi":67},{"x":20,"m":62,"lo":55,"hi":70},
      {"x":30,"m":58,"lo":53,"hi":64},{"x":40,"m":61,"lo":55,"hi":67},{"x":50,"m":63,"lo":57,"hi":69},{"x":60,"m":62,"lo":56,"hi":68},
      {"x":70,"m":65,"lo":59,"hi":72},{"x":80,"m":64,"lo":58,"hi":71},{"x":90,"m":61,"lo":54,"hi":68},{"x":100,"m":66,"lo":60,"hi":72},
      {"x":110,"m":68,"lo":62,"hi":75},{"x":120,"m":70,"lo":64,"hi":76},{"x":130,"m":69,"lo":63,"hi":75},{"x":140,"m":71,"lo":65,"hi":77},
      {"x":150,"m":67,"lo":61,"hi":73},{"x":160,"m":69,"lo":63,"hi":75},{"x":170,"m":68,"lo":60,"hi":74},{"x":180,"m":71,"lo":65,"hi":77},
      {"x":190,"m":70,"lo":64,"hi":76},{"x":200,"m":72,"lo":66,"hi":79},{"x":210,"m":69,"lo":63,"hi":75},{"x":220,"m":71,"lo":65,"hi":77},
      {"x":230,"m":73,"lo":67,"hi":79},{"x":240,"m":72,"lo":66,"hi":78},{"x":250,"m":74,"lo":68,"hi":80},{"x":260,"m":69,"lo":62,"hi":76},
      {"x":270,"m":67,"lo":60,"hi":73},{"x":280,"m":70,"lo":63,"hi":76},{"x":290,"m":68,"lo":61,"hi":75},{"x":300,"m":70,"lo":63,"hi":77},
      {"x":310,"m":63,"lo":56,"hi":69},{"x":320,"m":61,"lo":51,"hi":69},{"x":330,"m":66,"lo":59,"hi":72},{"x":340,"m":68,"lo":61,"hi":74},
      {"x":350,"m":67,"lo":60,"hi":73},{"x":360,"m":69,"lo":62,"hi":75},{"x":370,"m":68,"lo":61,"hi":76},{"x":380,"m":65,"lo":58,"hi":71},
      {"x":390,"m":62,"lo":55,"hi":70},{"x":400,"m":64,"lo":56,"hi":71},{"x":410,"m":72,"lo":66,"hi":78},{"x":420,"m":73,"lo":67,"hi":78},
      {"x":430,"m":75,"lo":69,"hi":80},{"x":440,"m":77,"lo":72,"hi":81},{"x":450,"m":76,"lo":70,"hi":81},{"x":460,"m":73,"lo":67,"hi":79},
      {"x":470,"m":74,"lo":68,"hi":79},{"x":480,"m":72,"lo":66,"hi":78},{"x":490,"m":73,"lo":65,"hi":79},{"x":500,"m":71,"lo":64,"hi":77},
      {"x":510,"m":72,"lo":65,"hi":78},{"x":520,"m":74,"lo":68,"hi":80},{"x":530,"m":76,"lo":70,"hi":82},{"x":540,"m":75,"lo":69,"hi":81},
      {"x":550,"m":78,"lo":72,"hi":83},{"x":560,"m":76,"lo":70,"hi":82},{"x":570,"m":75,"lo":67,"hi":82},{"x":580,"m":78,"lo":72,"hi":84},
      {"x":590,"m":77,"lo":71,"hi":83},{"x":600,"m":79,"lo":73,"hi":84},{"x":610,"m":78,"lo":72,"hi":83},{"x":620,"m":80,"lo":74,"hi":86},
      {"x":630,"m":79,"lo":73,"hi":85},{"x":640,"m":81,"lo":75,"hi":86},{"x":650,"m":80,"lo":74,"hi":87},{"x":660,"m":83,"lo":77,"hi":89},
      {"x":670,"m":82,"lo":76,"hi":88},{"x":680,"m":80,"lo":74,"hi":85},{"x":690,"m":78,"lo":72,"hi":83},{"x":700,"m":79,"lo":73,"hi":84},
      {"x":710,"m":77,"lo":71,"hi":83},{"x":720,"m":76,"lo":70,"hi":81},{"x":730,"m":78,"lo":72,"hi":83},{"x":740,"m":75,"lo":69,"hi":81},
      {"x":750,"m":77,"lo":70,"hi":84},{"x":760,"m":79,"lo":73,"hi":85},{"x":770,"m":76,"lo":68,"hi":83},{"x":780,"m":78,"lo":72,"hi":84},
      {"x":790,"m":75,"lo":67,"hi":82},{"x":800,"m":77,"lo":71,"hi":83},{"x":810,"m":79,"lo":73,"hi":85},{"x":820,"m":76,"lo":70,"hi":82},
      {"x":830,"m":78,"lo":72,"hi":84},{"x":840,"m":73,"lo":66,"hi":80},{"x":850,"m":76,"lo":69,"hi":82},{"x":860,"m":79,"lo":73,"hi":86},
      {"x":870,"m":80,"lo":74,"hi":86},{"x":880,"m":77,"lo":71,"hi":83},{"x":890,"m":74,"lo":66,"hi":81},{"x":900,"m":76,"lo":67,"hi":84},
      {"x":910,"m":78,"lo":71,"hi":85},{"x":920,"m":80,"lo":74,"hi":86},{"x":930,"m":83,"lo":77,"hi":91},{"x":940,"m":79,"lo":72,"hi":89},
      {"x":950,"m":75,"lo":62,"hi":86},{"x":960,"m":81,"lo":74,"hi":88},{"x":970,"m":79,"lo":70,"hi":87},{"x":980,"m":82,"lo":75,"hi":91},
      {"x":990,"m":83,"lo":76,"hi":89},{"x":1000,"m":80,"lo":51,"hi":94},
      {"x":15,"m":58,"lo":52,"hi":64},{"x":25,"m":61,"lo":55,"hi":67},{"x":35,"m":60,"lo":54,"hi":66},{"x":45,"m":59,"lo":53,"hi":65},
      {"x":55,"m":64,"lo":58,"hi":70},{"x":65,"m":63,"lo":57,"hi":69},{"x":75,"m":62,"lo":56,"hi":68},{"x":85,"m":66,"lo":60,"hi":72},
      {"x":95,"m":64,"lo":58,"hi":70},{"x":105,"m":65,"lo":59,"hi":71},{"x":115,"m":70,"lo":64,"hi":76},{"x":125,"m":67,"lo":61,"hi":73},
      {"x":135,"m":72,"lo":66,"hi":78},{"x":145,"m":70,"lo":64,"hi":76},{"x":155,"m":68,"lo":62,"hi":74},{"x":165,"m":71,"lo":65,"hi":77},
      {"x":175,"m":70,"lo":64,"hi":76},{"x":185,"m":69,"lo":63,"hi":75},{"x":195,"m":73,"lo":67,"hi":79},{"x":205,"m":70,"lo":64,"hi":76},
      {"x":215,"m":72,"lo":66,"hi":78},{"x":225,"m":70,"lo":64,"hi":77},{"x":235,"m":71,"lo":65,"hi":77},{"x":245,"m":73,"lo":67,"hi":79},
      {"x":255,"m":71,"lo":65,"hi":77},{"x":265,"m":72,"lo":66,"hi":78},{"x":275,"m":69,"lo":62,"hi":76},{"x":285,"m":71,"lo":64,"hi":78},
      {"x":295,"m":69,"lo":62,"hi":76},{"x":305,"m":67,"lo":60,"hi":74},{"x":315,"m":65,"lo":58,"hi":72},{"x":325,"m":64,"lo":57,"hi":71},
      {"x":335,"m":67,"lo":60,"hi":74},{"x":345,"m":66,"lo":59,"hi":72},{"x":355,"m":68,"lo":61,"hi":74},{"x":365,"m":66,"lo":59,"hi":72},
      {"x":375,"m":67,"lo":60,"hi":74},{"x":385,"m":64,"lo":57,"hi":70},{"x":395,"m":63,"lo":55,"hi":69},{"x":405,"m":68,"lo":61,"hi":74},
      {"x":415,"m":71,"lo":65,"hi":77},{"x":425,"m":74,"lo":68,"hi":79},{"x":435,"m":73,"lo":67,"hi":79},{"x":445,"m":75,"lo":69,"hi":80},
      {"x":455,"m":74,"lo":68,"hi":80},{"x":465,"m":71,"lo":65,"hi":77},{"x":475,"m":75,"lo":69,"hi":80},{"x":485,"m":74,"lo":68,"hi":79},
      {"x":495,"m":72,"lo":66,"hi":78},{"x":505,"m":73,"lo":67,"hi":79},{"x":515,"m":71,"lo":65,"hi":77},{"x":525,"m":73,"lo":67,"hi":79},
      {"x":535,"m":74,"lo":68,"hi":80},{"x":545,"m":77,"lo":71,"hi":82},{"x":555,"m":75,"lo":69,"hi":81},{"x":565,"m":77,"lo":71,"hi":83},
      {"x":575,"m":77,"lo":71,"hi":83},{"x":585,"m":76,"lo":70,"hi":82},{"x":595,"m":78,"lo":72,"hi":84},{"x":605,"m":77,"lo":71,"hi":83},
      {"x":615,"m":79,"lo":73,"hi":85},{"x":625,"m":78,"lo":72,"hi":84},{"x":635,"m":80,"lo":74,"hi":86},{"x":645,"m":79,"lo":73,"hi":85},
      {"x":655,"m":82,"lo":76,"hi":88},{"x":665,"m":81,"lo":75,"hi":87},{"x":675,"m":83,"lo":77,"hi":88},{"x":685,"m":79,"lo":73,"hi":84},
      {"x":695,"m":80,"lo":74,"hi":85},{"x":705,"m":78,"lo":72,"hi":83},{"x":715,"m":79,"lo":73,"hi":84},{"x":725,"m":77,"lo":71,"hi":82},
      {"x":735,"m":76,"lo":70,"hi":82},{"x":745,"m":78,"lo":72,"hi":84},{"x":755,"m":76,"lo":70,"hi":82},{"x":765,"m":77,"lo":71,"hi":83},
      {"x":775,"m":79,"lo":72,"hi":85},{"x":785,"m":77,"lo":70,"hi":83},{"x":795,"m":78,"lo":72,"hi":84},{"x":805,"m":76,"lo":70,"hi":82},
      {"x":815,"m":78,"lo":72,"hi":84},{"x":825,"m":79,"lo":73,"hi":85},{"x":835,"m":76,"lo":70,"hi":82},{"x":845,"m":77,"lo":70,"hi":84},
      {"x":855,"m":75,"lo":68,"hi":81},{"x":865,"m":81,"lo":75,"hi":87},{"x":875,"m":78,"lo":72,"hi":84},{"x":885,"m":76,"lo":69,"hi":82},
      {"x":895,"m":78,"lo":71,"hi":85},{"x":905,"m":74,"lo":66,"hi":82},{"x":915,"m":80,"lo":73,"hi":86},{"x":925,"m":78,"lo":71,"hi":85},
      {"x":935,"m":81,"lo":74,"hi":88},{"x":945,"m":84,"lo":77,"hi":91},{"x":955,"m":79,"lo":71,"hi":87},{"x":965,"m":78,"lo":69,"hi":86},
      {"x":975,"m":82,"lo":74,"hi":90},{"x":985,"m":80,"lo":72,"hi":89},{"x":995,"m":84,"lo":77,"hi":91}
    ]
  },
  "concat": [
    {
      "title": "ACTIVE RMSE",
      "width": 415,
      "height": 322,
      "layer": [
        {
          "encoding": {
            "x": {"field": "x", "type": "quantitative", "scale": {"domain": [-12, 1016], "nice": false, "zero": false},
                  "axis": {"values": [0,100,200,300,400,500,600,700,800,900,1000], "tickCount": 30, "labels": false, "title": null}}
          },
          "layer": [
            {"data": {"name": "tl"}, "mark": {"type": "rule", "color": "#0000ff", "strokeWidth": 1.1, "clip": true},
             "encoding": {"y": {"field": "lo", "type": "quantitative", "scale": {"domain": [2, 22], "nice": false, "zero": false},
                                "axis": {"values": [2,4,6,8,10,12,14,16,18,20,22], "tickCount": 30, "format": "d", "labelOverlap": false, "title": "Ankle angle (degrees)", "titlePadding": 6}},
                          "y2": {"field": "hi"}}},
            {"data": {"name": "tl"}, "mark": {"type": "tick", "orient": "horizontal", "color": "#0000ff", "size": 9, "thickness": 1, "clip": true},
             "encoding": {"y": {"field": "lo", "type": "quantitative", "scale": {"domain": [2, 22], "nice": false, "zero": false}}}},
            {"data": {"name": "tl"}, "mark": {"type": "tick", "orient": "horizontal", "color": "#0000ff", "size": 9, "thickness": 1, "clip": true},
             "encoding": {"y": {"field": "hi", "type": "quantitative", "scale": {"domain": [2, 22], "nice": false, "zero": false}}}},
            {"data": {"name": "tl"}, "mark": {"type": "line", "color": "#0000ff", "strokeWidth": 1.2, "clip": true},
             "encoding": {"y": {"field": "m", "type": "quantitative", "scale": {"domain": [2, 22], "nice": false, "zero": false}}}},
            {"data": {"values": [{"x": 0, "m": 6.3, "lo": 2.9, "hi": 9.7}, {"x": 1000, "m": 4.1, "lo": 0.5, "hi": 7.5}]},
             "layer": [
               {"mark": {"type": "line", "color": "#ff0000", "strokeWidth": 2.5, "strokeDash": [10, 4, 3, 4], "clip": true},
                "encoding": {"y": {"field": "m", "type": "quantitative", "scale": {"domain": [2, 22], "nice": false, "zero": false}}}},
               {"mark": {"type": "rule", "color": "#ff0000", "strokeWidth": 2, "clip": true},
                "encoding": {"y": {"field": "lo", "type": "quantitative", "scale": {"domain": [2, 22], "nice": false, "zero": false}}, "y2": {"field": "hi"}}},
               {"mark": {"type": "tick", "orient": "horizontal", "color": "#ff0000", "size": 9, "thickness": 2, "clip": true},
                "encoding": {"y": {"field": "hi", "type": "quantitative", "scale": {"domain": [2, 22], "nice": false, "zero": false}}}},
               {"mark": {"type": "point", "shape": "M-1,0L1,0M0,-1L0,1M-0.7,-0.7L0.7,0.7M-0.7,0.7L0.7,-0.7", "filled": false, "color": "#ff0000", "size": 60, "strokeWidth": 2, "opacity": 1},
                "encoding": {"y": {"field": "m", "type": "quantitative", "scale": {"domain": [2, 22], "nice": false, "zero": false}}}}
             ]},
            {"data": {"values": [{"o": 1, "x": 0, "y": 19.35}, {"o": 2, "x": 0, "y": 20.32}, {"o": 3, "x": 1000, "y": 20.32}, {"o": 4, "x": 1000, "y": 19.35}]},
             "mark": {"type": "line", "color": "black", "strokeWidth": 1.8},
             "encoding": {"y": {"field": "y", "type": "quantitative", "scale": {"domain": [2, 22], "nice": false, "zero": false}}, "order": {"field": "o"}}},
            {"data": {"values": [{"x": 500, "y": 21.17}]},
             "mark": {"type": "point", "shape": "M-1,0L1,0M0,-1L0,1M-0.7,-0.7L0.7,0.7M-0.7,0.7L0.7,-0.7", "filled": false, "color": "black", "size": 70, "strokeWidth": 1.4, "opacity": 1},
             "encoding": {"y": {"field": "y", "type": "quantitative", "scale": {"domain": [2, 22], "nice": false, "zero": false}}}}
          ]
        },
        {
          "data": {"values": [{"x": 0, "y": 10}]},
          "mark": {"type": "point", "opacity": 0},
          "encoding": {
            "x": {"field": "x", "type": "quantitative", "scale": {"domain": [-12, 1016], "nice": false, "zero": false},
                  "axis": {"orient": "top", "values": [0,100,200,300,400,500,600,700,800,900,1000], "tickCount": 30, "labels": false, "title": null, "domain": false}},
            "y": {"field": "y", "type": "quantitative", "scale": {"domain": [2, 22], "nice": false, "zero": false},
                  "axis": {"orient": "right", "values": [2,4,6,8,10,12,14,16,18,20,22], "tickCount": 30, "labels": false, "title": null, "domain": false}}
          }
        }
      ],
      "resolve": {"axis": {"x": "independent", "y": "independent"}}
    },
    {
      "title": "RESISTIVE RMSE",
      "width": 416,
      "height": 322,
      "layer": [
        {
          "encoding": {
            "x": {"field": "x", "type": "quantitative", "scale": {"domain": [-12, 1016], "nice": false, "zero": false},
                  "axis": {"values": [0,100,200,300,400,500,600,700,800,900,1000], "tickCount": 30, "labels": false, "title": null}}
          },
          "layer": [
            {"data": {"name": "tr"}, "mark": {"type": "rule", "color": "#0000ff", "strokeWidth": 1.1, "clip": true},
             "encoding": {"y": {"field": "lo", "type": "quantitative", "scale": {"domain": [2, 22], "nice": false, "zero": false},
                                "axis": {"values": [2,4,6,8,10,12,14,16,18,20,22], "tickCount": 30, "labels": false, "title": null}},
                          "y2": {"field": "hi"}}},
            {"data": {"name": "tr"}, "mark": {"type": "tick", "orient": "horizontal", "color": "#0000ff", "size": 9, "thickness": 1, "clip": true},
             "encoding": {"y": {"field": "lo", "type": "quantitative", "scale": {"domain": [2, 22], "nice": false, "zero": false}}}},
            {"data": {"name": "tr"}, "mark": {"type": "tick", "orient": "horizontal", "color": "#0000ff", "size": 9, "thickness": 1, "clip": true},
             "encoding": {"y": {"field": "hi", "type": "quantitative", "scale": {"domain": [2, 22], "nice": false, "zero": false}}}},
            {"data": {"name": "tr"}, "mark": {"type": "line", "color": "#0000ff", "strokeWidth": 1.2, "clip": true},
             "encoding": {"y": {"field": "m", "type": "quantitative", "scale": {"domain": [2, 22], "nice": false, "zero": false}}}},
            {"data": {"values": [{"x": 0, "m": 7.35, "lo": 0, "hi": 12.95}, {"x": 1000, "m": 5.3, "lo": 0, "hi": 10.45}]},
             "layer": [
               {"mark": {"type": "line", "color": "#ff0000", "strokeWidth": 2.5, "strokeDash": [10, 4, 3, 4], "clip": true},
                "encoding": {"y": {"field": "m", "type": "quantitative", "scale": {"domain": [2, 22], "nice": false, "zero": false}}}},
               {"mark": {"type": "rule", "color": "#ff0000", "strokeWidth": 2, "clip": true},
                "encoding": {"y": {"field": "lo", "type": "quantitative", "scale": {"domain": [2, 22], "nice": false, "zero": false}}, "y2": {"field": "hi"}}},
               {"mark": {"type": "tick", "orient": "horizontal", "color": "#ff0000", "size": 9, "thickness": 2, "clip": true},
                "encoding": {"y": {"field": "hi", "type": "quantitative", "scale": {"domain": [2, 22], "nice": false, "zero": false}}}},
               {"mark": {"type": "point", "shape": "M-1,0L1,0M0,-1L0,1M-0.7,-0.7L0.7,0.7M-0.7,0.7L0.7,-0.7", "filled": false, "color": "#ff0000", "size": 60, "strokeWidth": 2, "opacity": 1},
                "encoding": {"y": {"field": "m", "type": "quantitative", "scale": {"domain": [2, 22], "nice": false, "zero": false}}}}
             ]},
            {"data": {"values": [{"o": 1, "x": 0, "y": 16.74}, {"o": 2, "x": 0, "y": 17.63}, {"o": 3, "x": 1000, "y": 17.63}, {"o": 4, "x": 1000, "y": 16.74}]},
             "mark": {"type": "line", "color": "black", "strokeWidth": 1.8},
             "encoding": {"y": {"field": "y", "type": "quantitative", "scale": {"domain": [2, 22], "nice": false, "zero": false}}, "order": {"field": "o"}}},
            {"data": {"values": [{"x": 500, "y": 18.34}]},
             "mark": {"type": "point", "shape": "M-1,0L1,0M0,-1L0,1M-0.7,-0.7L0.7,0.7M-0.7,0.7L0.7,-0.7", "filled": false, "color": "black", "size": 70, "strokeWidth": 1.4, "opacity": 1},
             "encoding": {"y": {"field": "y", "type": "quantitative", "scale": {"domain": [2, 22], "nice": false, "zero": false}}}}
          ]
        },
        {
          "data": {"values": [{"x": 0, "y": 10}]},
          "mark": {"type": "point", "opacity": 0},
          "encoding": {
            "x": {"field": "x", "type": "quantitative", "scale": {"domain": [-12, 1016], "nice": false, "zero": false},
                  "axis": {"orient": "top", "values": [0,100,200,300,400,500,600,700,800,900,1000], "tickCount": 30, "labels": false, "title": null, "domain": false}},
            "y": {"field": "y", "type": "quantitative", "scale": {"domain": [2, 22], "nice": false, "zero": false},
                  "axis": {"orient": "right", "values": [2,4,6,8,10,12,14,16,18,20,22], "tickCount": 30, "labels": false, "title": null, "domain": false}}
          }
        }
      ],
      "resolve": {"axis": {"x": "independent", "y": "independent"}}
    },
    {
      "title": {"text": "ACTIVE performance", "offset": 4},
      "width": 415,
      "height": 322,
      "layer": [
        {
          "encoding": {
            "x": {"field": "x", "type": "quantitative", "scale": {"domain": [-12, 1016], "nice": false, "zero": false},
                  "axis": {"values": [0,100,200,300,400,500,600,700,800,900,1000], "tickCount": 30, "format": "d", "title": "Trajectory repetition, normalized to 1000", "titlePadding": 3}}
          },
          "layer": [
            {"data": {"name": "bl"}, "mark": {"type": "rule", "color": "#0000ff", "strokeWidth": 1.1, "clip": true},
             "encoding": {"y": {"field": "lo", "type": "quantitative", "scale": {"domain": [20, 115], "nice": false, "zero": false},
                                "axis": {"values": [20,30,40,50,60,70,80,90,100,110], "tickCount": 30, "format": "d", "labelOverlap": false, "title": "Score (%)", "titlePadding": 6}},
                          "y2": {"field": "hi"}}},
            {"data": {"name": "bl"}, "mark": {"type": "tick", "orient": "horizontal", "color": "#0000ff", "size": 9, "thickness": 1, "clip": true},
             "encoding": {"y": {"field": "lo", "type": "quantitative", "scale": {"domain": [20, 115], "nice": false, "zero": false}}}},
            {"data": {"name": "bl"}, "mark": {"type": "tick", "orient": "horizontal", "color": "#0000ff", "size": 9, "thickness": 1, "clip": true},
             "encoding": {"y": {"field": "hi", "type": "quantitative", "scale": {"domain": [20, 115], "nice": false, "zero": false}}}},
            {"data": {"name": "bl"}, "mark": {"type": "line", "color": "#0000ff", "strokeWidth": 1.2, "clip": true},
             "encoding": {"y": {"field": "m", "type": "quantitative", "scale": {"domain": [20, 115], "nice": false, "zero": false}}}},
            {"data": {"values": [{"x": 0, "m": 71, "lo": 42, "hi": 100}, {"x": 1000, "m": 89.5, "lo": 65.5, "hi": 113}]},
             "layer": [
               {"mark": {"type": "line", "color": "#ff0000", "strokeWidth": 2.5, "strokeDash": [10, 4, 3, 4], "clip": true},
                "encoding": {"y": {"field": "m", "type": "quantitative", "scale": {"domain": [20, 115], "nice": false, "zero": false}}}},
               {"mark": {"type": "rule", "color": "#ff0000", "strokeWidth": 2, "clip": true},
                "encoding": {"y": {"field": "lo", "type": "quantitative", "scale": {"domain": [20, 115], "nice": false, "zero": false}}, "y2": {"field": "hi"}}},
               {"mark": {"type": "tick", "orient": "horizontal", "color": "#ff0000", "size": 9, "thickness": 2, "clip": true},
                "encoding": {"y": {"field": "lo", "type": "quantitative", "scale": {"domain": [20, 115], "nice": false, "zero": false}}}},
               {"mark": {"type": "tick", "orient": "horizontal", "color": "#ff0000", "size": 9, "thickness": 2, "clip": true},
                "encoding": {"y": {"field": "hi", "type": "quantitative", "scale": {"domain": [20, 115], "nice": false, "zero": false}}}},
               {"mark": {"type": "point", "shape": "M-1,0L1,0M0,-1L0,1M-0.7,-0.7L0.7,0.7M-0.7,0.7L0.7,-0.7", "filled": false, "color": "#ff0000", "size": 60, "strokeWidth": 2, "opacity": 1},
                "encoding": {"y": {"field": "m", "type": "quantitative", "scale": {"domain": [20, 115], "nice": false, "zero": false}}}}
             ]},
            {"data": {"values": [{"o": 1, "x": 0, "y": 102.8}, {"o": 2, "x": 0, "y": 107.7}, {"o": 3, "x": 1000, "y": 107.7}, {"o": 4, "x": 1000, "y": 102.8}]},
             "mark": {"type": "line", "color": "black", "strokeWidth": 1.8},
             "encoding": {"y": {"field": "y", "type": "quantitative", "scale": {"domain": [20, 115], "nice": false, "zero": false}}, "order": {"field": "o"}}},
            {"data": {"values": [{"x": 500, "y": 112.3}]},
             "mark": {"type": "point", "shape": "M-1,0L1,0M0,-1L0,1M-0.7,-0.7L0.7,0.7M-0.7,0.7L0.7,-0.7", "filled": false, "color": "black", "size": 70, "strokeWidth": 1.4, "opacity": 1},
             "encoding": {"y": {"field": "y", "type": "quantitative", "scale": {"domain": [20, 115], "nice": false, "zero": false}}}}
          ]
        },
        {
          "data": {"values": [{"x": 0, "y": 50}]},
          "mark": {"type": "point", "opacity": 0},
          "encoding": {
            "x": {"field": "x", "type": "quantitative", "scale": {"domain": [-12, 1016], "nice": false, "zero": false},
                  "axis": {"orient": "top", "values": [0,100,200,300,400,500,600,700,800,900,1000], "tickCount": 30, "labels": false, "title": null, "domain": false}},
            "y": {"field": "y", "type": "quantitative", "scale": {"domain": [20, 115], "nice": false, "zero": false},
                  "axis": {"orient": "right", "values": [20,30,40,50,60,70,80,90,100,110], "tickCount": 30, "labels": false, "title": null, "domain": false}}
          }
        }
      ],
      "resolve": {"axis": {"x": "independent", "y": "independent"}}
    },
    {
      "title": {"text": "RESISTIVE performance", "offset": 4},
      "width": 416,
      "height": 322,
      "layer": [
        {
          "encoding": {
            "x": {"field": "x", "type": "quantitative", "scale": {"domain": [-12, 1016], "nice": false, "zero": false},
                  "axis": {"values": [0,100,200,300,400,500,600,700,800,900,1000], "tickCount": 30, "format": "d", "title": "Trajectory repetition, normalized to 1000", "titlePadding": 3}}
          },
          "layer": [
            {"data": {"name": "br"}, "mark": {"type": "rule", "color": "#0000ff", "strokeWidth": 1.1, "clip": true},
             "encoding": {"y": {"field": "lo", "type": "quantitative", "scale": {"domain": [20, 115], "nice": false, "zero": false},
                                "axis": {"values": [20,30,40,50,60,70,80,90,100,110], "tickCount": 30, "labels": false, "title": null}},
                          "y2": {"field": "hi"}}},
            {"data": {"name": "br"}, "mark": {"type": "tick", "orient": "horizontal", "color": "#0000ff", "size": 9, "thickness": 1, "clip": true},
             "encoding": {"y": {"field": "lo", "type": "quantitative", "scale": {"domain": [20, 115], "nice": false, "zero": false}}}},
            {"data": {"name": "br"}, "mark": {"type": "tick", "orient": "horizontal", "color": "#0000ff", "size": 9, "thickness": 1, "clip": true},
             "encoding": {"y": {"field": "hi", "type": "quantitative", "scale": {"domain": [20, 115], "nice": false, "zero": false}}}},
            {"data": {"name": "br"}, "mark": {"type": "line", "color": "#0000ff", "strokeWidth": 1.2, "clip": true},
             "encoding": {"y": {"field": "m", "type": "quantitative", "scale": {"domain": [20, 115], "nice": false, "zero": false}}}},
            {"data": {"values": [{"x": 0, "m": 64.9, "lo": 36.7, "hi": 92.8}, {"x": 1000, "m": 81, "lo": 45.3, "hi": 118}]},
             "layer": [
               {"mark": {"type": "line", "color": "#ff0000", "strokeWidth": 2.5, "strokeDash": [10, 4, 3, 4], "clip": true},
                "encoding": {"y": {"field": "m", "type": "quantitative", "scale": {"domain": [20, 115], "nice": false, "zero": false}}}},
               {"mark": {"type": "rule", "color": "#ff0000", "strokeWidth": 2, "clip": true},
                "encoding": {"y": {"field": "lo", "type": "quantitative", "scale": {"domain": [20, 115], "nice": false, "zero": false}}, "y2": {"field": "hi"}}},
               {"mark": {"type": "tick", "orient": "horizontal", "color": "#ff0000", "size": 9, "thickness": 2, "clip": true},
                "encoding": {"y": {"field": "lo", "type": "quantitative", "scale": {"domain": [20, 115], "nice": false, "zero": false}}}},
               {"mark": {"type": "point", "shape": "M-1,0L1,0M0,-1L0,1M-0.7,-0.7L0.7,0.7M-0.7,0.7L0.7,-0.7", "filled": false, "color": "#ff0000", "size": 60, "strokeWidth": 2, "opacity": 1},
                "encoding": {"y": {"field": "m", "type": "quantitative", "scale": {"domain": [20, 115], "nice": false, "zero": false}}}}
             ]},
            {"data": {"values": [{"o": 1, "x": 0, "y": 101.5}, {"o": 2, "x": 0, "y": 106.4}, {"o": 3, "x": 1000, "y": 106.4}, {"o": 4, "x": 1000, "y": 101.5}]},
             "mark": {"type": "line", "color": "black", "strokeWidth": 1.8},
             "encoding": {"y": {"field": "y", "type": "quantitative", "scale": {"domain": [20, 115], "nice": false, "zero": false}}, "order": {"field": "o"}}},
            {"data": {"values": [{"x": 500, "y": 111.1}]},
             "mark": {"type": "point", "shape": "M-1,0L1,0M0,-1L0,1M-0.7,-0.7L0.7,0.7M-0.7,0.7L0.7,-0.7", "filled": false, "color": "black", "size": 70, "strokeWidth": 1.4, "opacity": 1},
             "encoding": {"y": {"field": "y", "type": "quantitative", "scale": {"domain": [20, 115], "nice": false, "zero": false}}}}
          ]
        },
        {
          "data": {"values": [{"x": 0, "y": 50}]},
          "mark": {"type": "point", "opacity": 0},
          "encoding": {
            "x": {"field": "x", "type": "quantitative", "scale": {"domain": [-12, 1016], "nice": false, "zero": false},
                  "axis": {"orient": "top", "values": [0,100,200,300,400,500,600,700,800,900,1000], "tickCount": 30, "labels": false, "title": null, "domain": false}},
            "y": {"field": "y", "type": "quantitative", "scale": {"domain": [20, 115], "nice": false, "zero": false},
                  "axis": {"orient": "right", "values": [20,30,40,50,60,70,80,90,100,110], "tickCount": 30, "labels": false, "title": null, "domain": false}}
          }
        }
      ],
      "resolve": {"axis": {"x": "independent", "y": "independent"}}
    }
  ],
  "columns": 2,
  "spacing": {"row": 10, "column": 15}
}
